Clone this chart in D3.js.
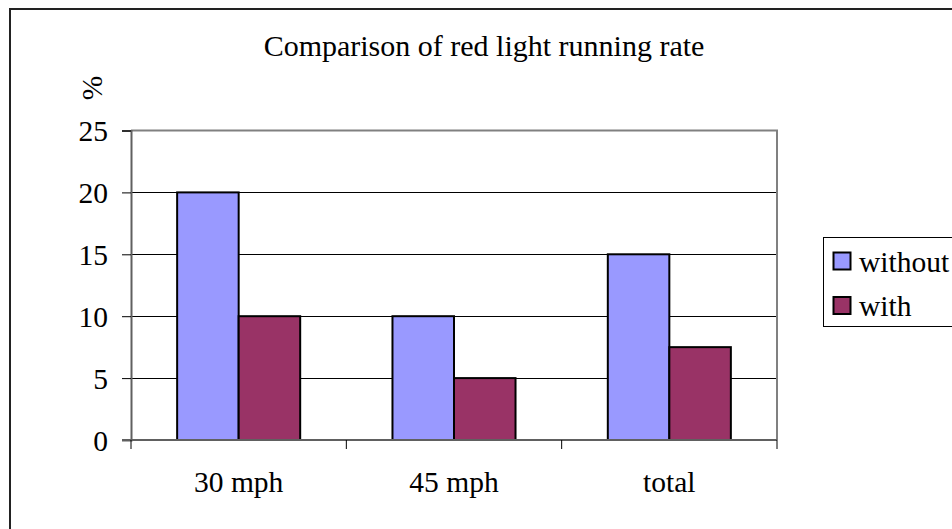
<!DOCTYPE html>
<html>
<head>
<meta charset="utf-8">
<script src="https://cdn.jsdelivr.net/npm/d3@7"></script>
<style>
  html, body { margin: 0; padding: 0; background: #fff; }
  svg { display: block; }
</style>
</head>
<body>
<svg id="chart" width="952" height="529"></svg>
<script>
const categories = ["30 mph", "45 mph", "total"];
const seriesNames = ["without", "with"];
const withoutValues = [20, 10, 15];
const withValues = [10, 5, 7.5];
const yTicks = [0, 5, 10, 15, 20, 25];
const colors = ["#9999FF", "#993366"];
const title = "Comparison of red light running rate";
const yLabel = "%";

const FONT = "'Liberation Serif', 'Times New Roman', Times, 'DejaVu Serif', serif";
const svg = d3.select("#chart").attr("font-family", FONT);
const plot = { left: 131, right: 777, top: 130.5, bottom: 440 };
const fontSize = 29.5;

// outer chart frame
svg.append("rect")
  .attr("x", 10).attr("y", 9)
  .attr("width", 980).attr("height", 560)
  .attr("fill", "#fff").attr("stroke", "#222").attr("stroke-width", 2);

const x = d3.scaleBand().domain(categories).range([plot.left, plot.right]).padding(0);
const xs = d3.scaleBand().domain(seriesNames).range([0, x.bandwidth()]).paddingInner(0).paddingOuter(0.75);
const y = d3.scaleLinear().domain([0, 25]).range([plot.bottom, plot.top]);

// gridlines
svg.append("g").selectAll("line")
  .data(yTicks.filter(t => t > 0 && t < 25))
  .join("line")
  .attr("x1", plot.left).attr("x2", plot.right)
  .attr("y1", d => Math.round(y(d)) + 0.5).attr("y2", d => Math.round(y(d)) + 0.5)
  .attr("stroke", "#000").attr("stroke-width", 1);

// plot area border (top & right)
svg.append("path")
  .attr("d", `M${plot.left},${plot.top}H${plot.right}V${plot.bottom}`)
  .attr("fill", "none").attr("stroke", "#808080").attr("stroke-width", 2);

// bars
const data = categories.map((c, i) => ({ c, vals: [withoutValues[i], withValues[i]] }));
const groups = svg.append("g").selectAll("g")
  .data(data).join("g")
  .attr("transform", d => `translate(${x(d.c)},0)`);
groups.selectAll("rect")
  .data(d => d.vals.map((v, j) => ({ s: seriesNames[j], v, j })))
  .join("rect")
  .attr("x", d => xs(d.s))
  .attr("y", d => y(d.v))
  .attr("width", xs.bandwidth())
  .attr("height", d => y(0) - y(d.v))
  .attr("fill", d => colors[d.j])
  .attr("stroke", "#000").attr("stroke-width", 2);

// y axis
const yAxis = d3.axisLeft(y).tickValues(yTicks).tickSize(9).tickPadding(14);
const gy = svg.append("g").attr("transform", `translate(${plot.left},0)`).call(yAxis);
gy.attr("font-family", FONT).attr("font-size", fontSize);
gy.select(".domain").attr("stroke", "#606060").attr("stroke-width", 2);
gy.selectAll(".tick line").attr("stroke", "#000");
gy.selectAll(".tick text").attr("fill", "#000").attr("dy", "0.34em");

// x axis: ticks at category boundaries
const xAxisG = svg.append("g").attr("font-size", fontSize);
xAxisG.append("line")
  .attr("x1", plot.left - 9).attr("x2", plot.right)
  .attr("y1", plot.bottom).attr("y2", plot.bottom)
  .attr("stroke", "#606060").attr("stroke-width", 2);
const bounds = categories.map(c => x(c)).concat([x(categories[categories.length - 1]) + x.bandwidth()]);
xAxisG.selectAll("line.tk").data(bounds).join("line").attr("class", "tk")
  .attr("x1", d => d).attr("x2", d => d)
  .attr("y1", plot.bottom).attr("y2", plot.bottom + 9)
  .attr("stroke", "#000").attr("stroke-width", 1);
xAxisG.selectAll("text").data(categories).join("text")
  .attr("x", d => x(d) + x.bandwidth() / 2)
  .attr("y", 492)
  .attr("text-anchor", "middle")
  .text(d => d);

// title
svg.append("text")
  .attr("x", 484).attr("y", 56)
  .attr("text-anchor", "middle")
  .attr("font-size", 30)
  .text(title);

// y label
svg.append("text")
  .attr("transform", "translate(102,88) rotate(-90)")
  .attr("text-anchor", "middle")
  .attr("font-size", fontSize)
  .text(yLabel);

// legend
const lg = svg.append("g").attr("font-size", fontSize);
lg.append("rect")
  .attr("x", 823.5).attr("y", 237.5)
  .attr("width", 200).attr("height", 89)
  .attr("fill", "#fff").attr("stroke", "#000").attr("stroke-width", 1);
const items = lg.selectAll("g").data(seriesNames).join("g")
  .attr("transform", (d, i) => `translate(0,${i * 44.5})`);
items.append("rect")
  .attr("x", 833.5).attr("y", 252.5)
  .attr("width", 17).attr("height", 17)
  .attr("fill", (d, i) => colors[i])
  .attr("stroke", "#000").attr("stroke-width", 2);
items.append("text")
  .attr("x", 859).attr("y", 271.5)
  .text(d => d);
</script>
</body>
</html>
